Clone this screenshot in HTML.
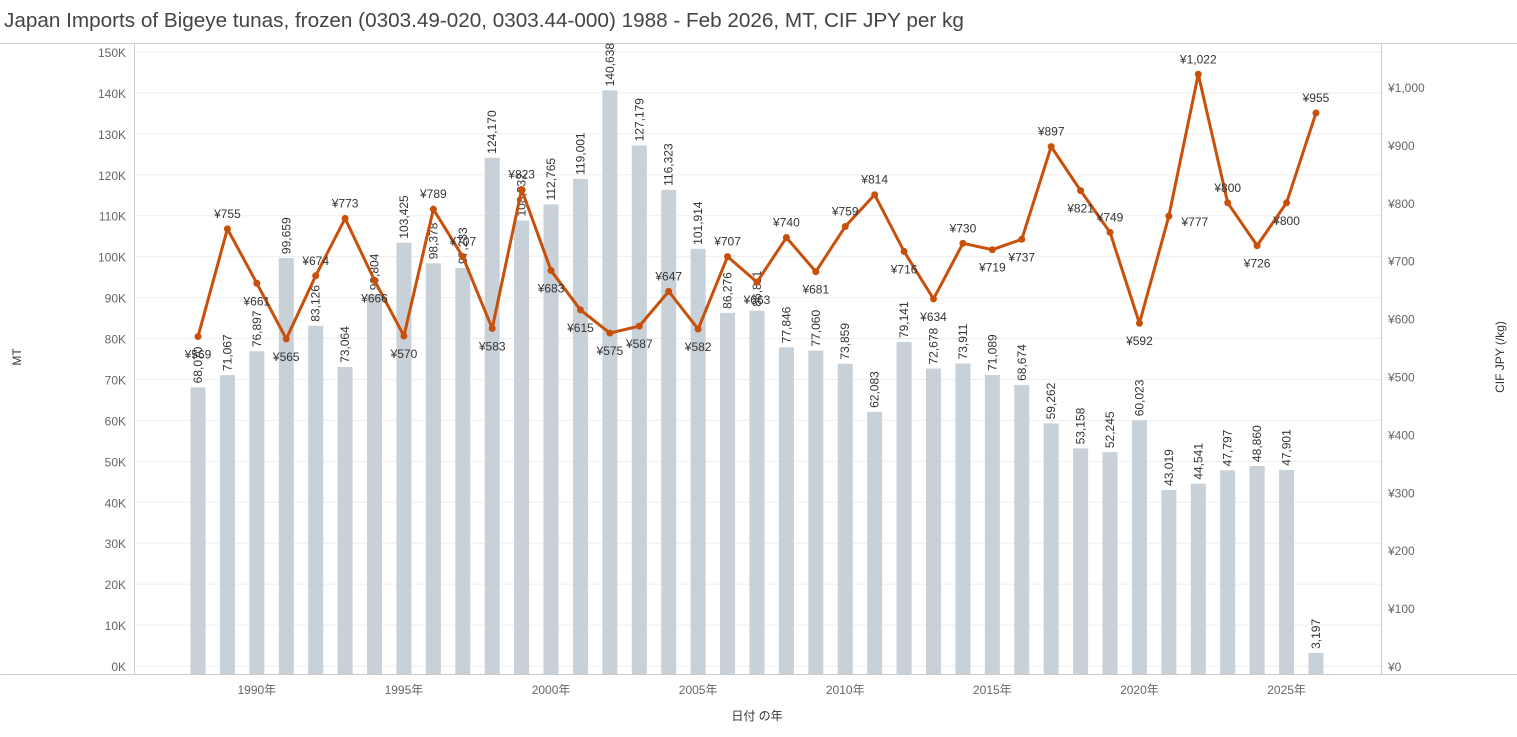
<!DOCTYPE html>
<html><head><meta charset="utf-8"><style>
body{margin:0;background:#fff;font-family:"Liberation Sans","Noto Sans CJK JP",sans-serif}
svg text{font-family:"Liberation Sans","Noto Sans CJK JP",sans-serif}
</style></head><body>
<svg id="c" width="1517" height="732">
<text x="4" y="27" font-size="20.7" fill="#444">Japan Imports of Bigeye tunas, frozen (0303.49-020, 0303.44-000) 1988 - Feb 2026, MT, CIF JPY per kg</text>
<line x1="0" y1="43.5" x2="1517" y2="43.5" stroke="#ccc"/>
<g id="grid"></g><g id="bars"></g><g id="line"></g><g id="axes"></g>
<text x="0" y="0" transform="translate(21,357) rotate(-90)" font-size="12" fill="#333" text-anchor="middle">MT</text>
<text x="0" y="0" transform="translate(1504,357) rotate(-90)" font-size="12" fill="#333" text-anchor="middle">CIF JPY (/kg)</text>
<text x="757" y="720" font-size="12" fill="#333" text-anchor="middle">日付 の年</text>
</svg>
<script>
const years=[1988,1989,1990,1991,1992,1993,1994,1995,1996,1997,1998,1999,2000,2001,2002,2003,2004,2005,2006,2007,2008,2009,2010,2011,2012,2013,2014,2015,2016,2017,2018,2019,2020,2021,2022,2023,2024,2025,2026];
const mt=[68070,71067,76897,99659,83126,73064,90804,103425,98378,97233,124170,108832,112765,119001,140638,127179,116323,101914,86276,86811,77846,77060,73859,62083,79141,72678,73911,71089,68674,59262,53158,52245,60023,43019,44541,47797,48860,47901,3197];
const price=[569,755,661,565,674,773,666,570,789,707,583,823,683,615,575,587,647,582,707,663,740,681,759,814,716,634,730,719,737,897,821,749,592,777,1022,800,726,800,955];
const side=['b','a','b','b','a','a','b','b','a','a','b','a','b','b','b','b','a','b','a','b','a','b','a','a','b','b','a','b','b','a','b','a','b','r','a','a','b','b','a'];
const leftTicks=[0,10000,20000,30000,40000,50000,60000,70000,80000,90000,100000,110000,120000,130000,140000,150000];
const rightTicks=[0,100,200,300,400,500,600,700,800,900,1000];
const xTicks=[1990,1995,2000,2005,2010,2015,2020,2025];
const NS='http://www.w3.org/2000/svg';
const x=y=>198+(y-1988)*29.42;
const yL=v=>666-v*(614/150000);
const yR=v=>666-v*0.579;
function mk(t,a,p){const e=document.createElementNS(NS,t);for(const k in a)e.setAttribute(k,a[k]);p.appendChild(e);return e;}
const G=document.getElementById('grid'),B=document.getElementById('bars'),L=document.getElementById('line'),A=document.getElementById('axes');
const fmt=n=>n.toLocaleString('en-US');
leftTicks.forEach(v=>{const l=mk('line',{x1:134,x2:1381,y1:yL(v),y2:yL(v),stroke:'#efefef'},G);


const t=mk('text',{x:126,y:yL(v)+5,'font-size':12,fill:'#666','text-anchor':'end'},A);t.textContent=(v/1000)+'K';

});
rightTicks.forEach(v=>{const t=mk('text',{x:1388,y:yR(v)+5,'font-size':12,fill:'#666'},A);t.textContent='¥'+fmt(v);

});
xTicks.forEach(v=>{const t=mk('text',{x:x(v),y:694,'font-size':12,fill:'#666','text-anchor':'middle'},A);t.textContent=v+'年';

});
[[134,44,134,674],[1381,44,1381,674],[0,674,1517,674]].forEach(c=>{const l=mk('line',{x1:c[0]+.5,y1:c[1]+.5,x2:c[2]+.5,y2:c[3]+.5,stroke:'#ccc'},A);

});
years.forEach((yr,i)=>{const cx=x(yr),top=yL(mt[i]);
const r=mk('rect',{x:cx-7.5,y:top,width:15,height:666-top+8,fill:'#c8d0d8'},B);


const t=mk('text',{x:0,y:0,transform:`translate(${cx+4},${top-4}) rotate(-90)`,'font-size':12,fill:'#333'},B);t.textContent=fmt(mt[i]);

});
const pts=years.map((yr,i)=>x(yr)+','+yR(price[i])).join(' ');
const pl=mk('polyline',{points:pts,fill:'none',stroke:'#c8500a','stroke-width':3,'stroke-linejoin':'round'},L);


years.forEach((yr,i)=>{const cx=x(yr),cy=yR(price[i]);
const c=mk('circle',{cx:cx,cy:cy,r:3.5,fill:'#c8500a'},L);


let ty=side[i]==='a'?cy-15:side[i]==='b'?cy+18:cy+6, tx=side[i]==='r'?cx+26:cx;
const t=mk('text',{x:tx,y:ty+4,'font-size':12,fill:'#333','text-anchor':'middle'},L);t.textContent='¥'+fmt(price[i]);

});
</script>
</body></html>
